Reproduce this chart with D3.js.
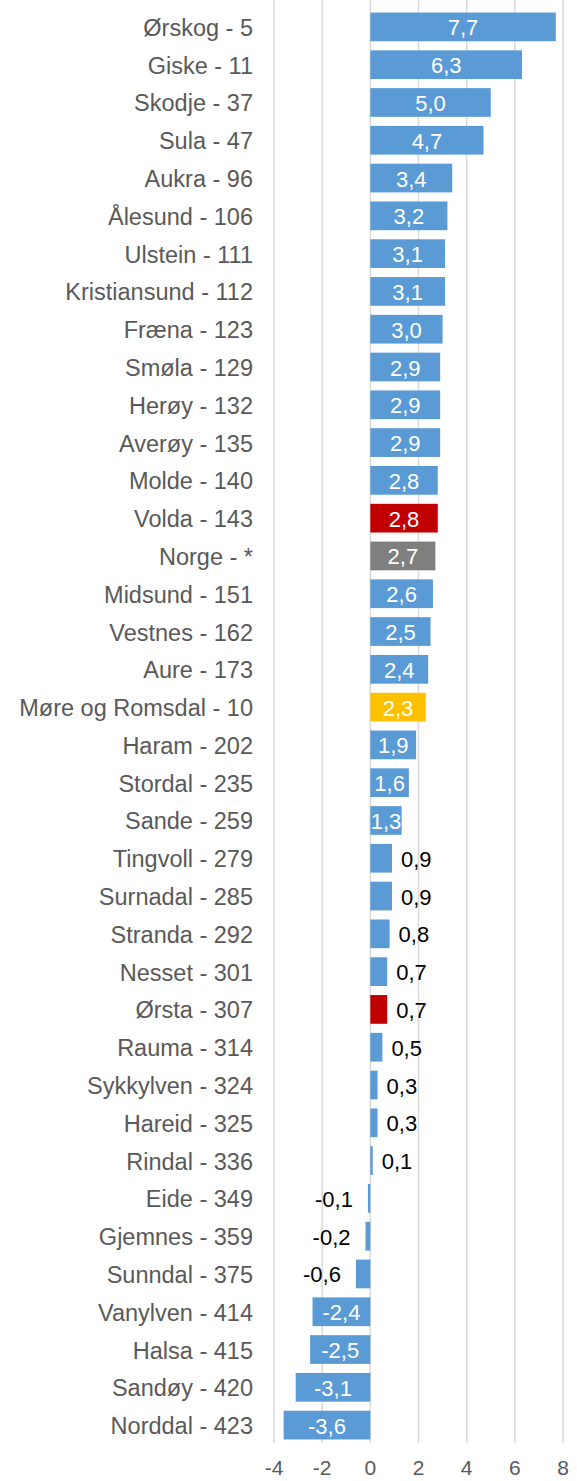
<!DOCTYPE html>
<html lang="no">
<head>
<meta charset="utf-8">
<title></title>
<script src="https://cdn.jsdelivr.net/npm/d3@7"></script>
<style>
  body { margin: 0; background: #fff; }
  text { font-family: "Liberation Sans", Arial, sans-serif; }
</style>
</head>
<body>
<svg width="577" height="1481"></svg>
<script>
var names = ['Ørskog - 5', 'Giske - 11', 'Skodje - 37', 'Sula - 47', 'Aukra - 96', 'Ålesund - 106',
  'Ulstein - 111', 'Kristiansund - 112', 'Fræna - 123', 'Smøla - 129', 'Herøy - 132', 'Averøy - 135',
  'Molde - 140', 'Volda - 143', 'Norge - *', 'Midsund - 151', 'Vestnes - 162', 'Aure - 173',
  'Møre og Romsdal - 10', 'Haram - 202', 'Stordal - 235', 'Sande - 259', 'Tingvoll - 279',
  'Surnadal - 285', 'Stranda - 292', 'Nesset - 301', 'Ørsta - 307', 'Rauma - 314', 'Sykkylven - 324',
  'Hareid - 325', 'Rindal - 336', 'Eide - 349', 'Gjemnes - 359', 'Sunndal - 375', 'Vanylven - 414',
  'Halsa - 415', 'Sandøy - 420', 'Norddal - 423'];
var values = [7.7, 6.3, 5.0, 4.7, 3.4, 3.2, 3.1, 3.1, 3.0, 2.9, 2.9, 2.9, 2.8, 2.8, 2.7, 2.6, 2.5, 2.4,
  2.3, 1.9, 1.6, 1.3, 0.9, 0.9, 0.8, 0.7, 0.7, 0.5, 0.3, 0.3, 0.1, -0.1, -0.2, -0.6, -2.4, -2.5, -3.1, -3.6];
var ticks = [-4, -2, 0, 2, 4, 6, 8];

var data = names.map((n, i) => ({name: n, value: values[i]}));

function barColor(n) {
  if (n.startsWith('Volda') || n.startsWith('Ørsta')) return '#C00000';
  if (n.startsWith('Norge')) return '#7F7F7F';
  if (n.startsWith('Møre og Romsdal')) return '#FFC000';
  return '#5B9BD5';
}
var fmt = v => d3.format('.1f')(v).replace('.', ',').replace('−', '-');
var inside = d => Math.abs(d.value) >= 1.3;

var svg = d3.select('svg');
var x = d3.scaleLinear().domain([-4, 8]).range([274, 563]);
var y = d3.scaleBand().domain(names).range([8, 1444]).paddingInner(0.24).paddingOuter(0.12);
var mid = d => y(d.name) + y.bandwidth() / 2;

svg.selectAll('line.grid')
  .data(ticks)
  .enter()
  .append('line')
  .attr('class', 'grid')
  .attr('x1', d => x(d)).attr('x2', d => x(d))
  .attr('y1', 0).attr('y2', 1443)
  .style('stroke', '#d9d9d9')
  .style('stroke-width', 1.5);

svg.selectAll('text.tick')
  .data(ticks)
  .enter()
  .append('text')
  .attr('class', 'tick')
  .attr('x', d => x(d))
  .attr('y', 1475)
  .attr('text-anchor', 'middle')
  .style('font-size', '21px')
  .style('fill', '#595959')
  .text(d => d);

svg.selectAll('rect.bar')
  .data(data)
  .enter()
  .append('rect')
  .attr('class', 'bar')
  .attr('x', d => x(Math.min(0, d.value)))
  .attr('width', d => Math.abs(x(d.value) - x(0)))
  .attr('y', d => y(d.name))
  .attr('height', y.bandwidth())
  .style('fill', d => barColor(d.name));

svg.selectAll('text.cat')
  .data(data)
  .enter()
  .append('text')
  .attr('class', 'cat')
  .attr('x', 253)
  .attr('y', d => mid(d) + 9)
  .attr('text-anchor', 'end')
  .style('font-size', '23.5px')
  .style('fill', '#595959')
  .text(d => d.name);

svg.selectAll('text.val')
  .data(data)
  .enter()
  .append('text')
  .attr('class', 'val')
  .attr('x', d => {
    if (inside(d)) return (x(d.value) + x(0)) / 2;
    return d.value > 0 ? x(d.value) + 9 : x(d.value) - 15;
  })
  .attr('y', d => mid(d) + 8.5)
  .attr('text-anchor', d => inside(d) ? 'middle' : (d.value > 0 ? 'start' : 'end'))
  .style('font-size', '22px')
  .style('fill', d => inside(d) ? '#fff' : '#000')
  .text(d => fmt(d.value));
</script>
</body>
</html>
